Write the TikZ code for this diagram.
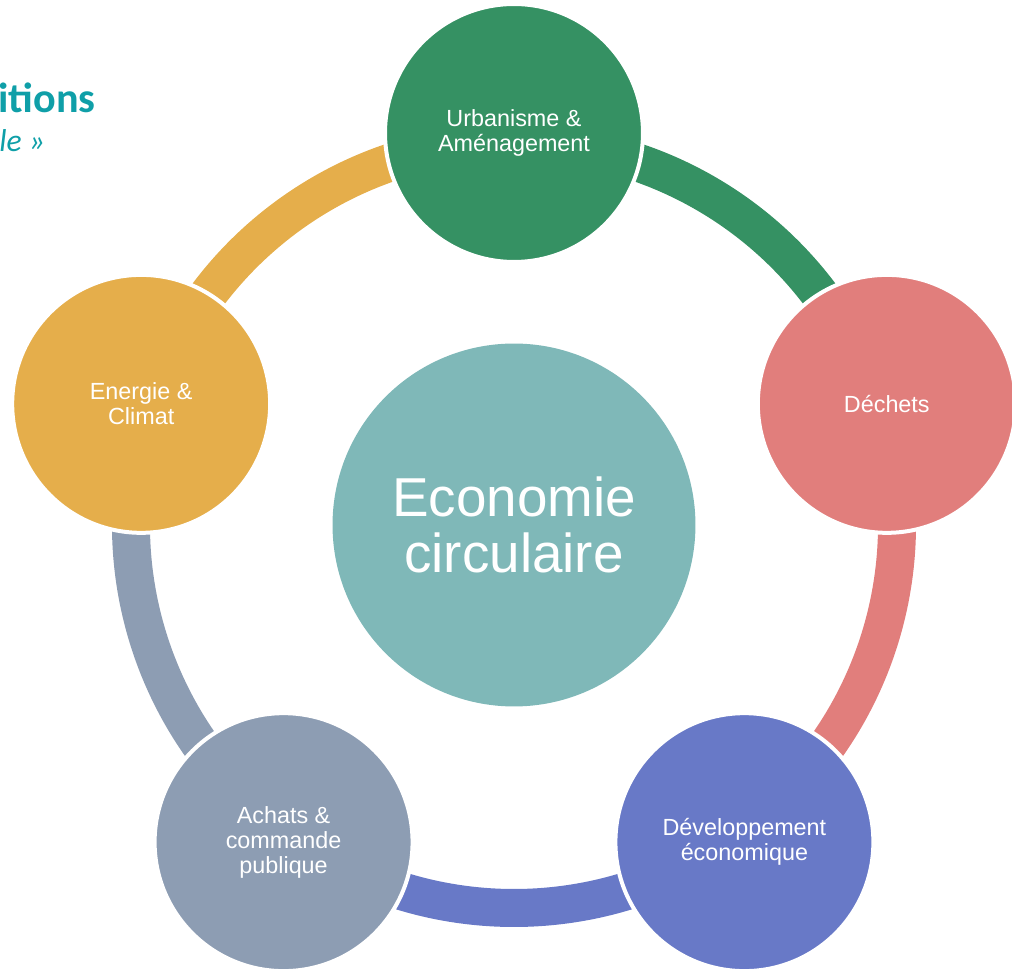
\documentclass[tikz,border=0pt]{standalone}
\usepackage{fontspec}
\setmainfont{Liberation Sans}
\newfontfamily\titlefont{Carlito}
\usepackage{tikz}
\usepackage{xcolor}

\definecolor{urbgreen}{HTML}{359163}
\definecolor{dechred}{HTML}{E17E7C}
\definecolor{devblue}{HTML}{6879C7}
\definecolor{achgray}{HTML}{8D9DB3}
\definecolor{enorange}{HTML}{E5AE4B}
\definecolor{ecoteal}{HTML}{7FB8B8}
\definecolor{titleteal}{HTML}{0F9FA8}

\begin{document}
\begin{tikzpicture}[x=0.02cm,y=0.02cm,
  ringarc/.style={line width=0.76cm},
  theme/.style={circle, draw=white, line width=0.08cm, minimum size=5.16cm, inner sep=0pt,
    text=white, align=center, font=\fontsize{13.3}{14.2}\selectfont},
  core/.style={circle, fill=ecoteal, minimum size=7.26cm, inner sep=0pt,
    text=white, align=center, font=\fontsize{31.2}{32.3}\selectfont}]
\useasboundingbox (-514,-445) rectangle (498,525);

% title, cut at the left edge
\node[anchor=base west, inner sep=0pt, text=titleteal, font=\titlefont\bfseries\fontsize{24}{28}\selectfont] (ttl) at (-516,412) {itions};
\node[anchor=base west, inner sep=0pt, text=titleteal, font=\titlefont\itshape\fontsize{18}{21}\selectfont] (subttl) at (-515,373) {le »};

% ring
\draw[ringarc, urbgreen] (90:383) arc[start angle=90, end angle=18, radius=383];
\draw[ringarc, dechred] (18:383) arc[start angle=18, end angle=-54, radius=383];
\draw[ringarc, devblue] (-54:383) arc[start angle=-54, end angle=-126, radius=383];
\draw[ringarc, achgray] (-126:383) arc[start angle=-126, end angle=-198, radius=383];
\draw[ringarc, enorange] (162:383) arc[start angle=162, end angle=90, radius=383];

\node[core] (eco) at (0,0) {Economie\\circulaire};

\node[theme, fill=urbgreen] (urba) at (90:392) {Urbanisme \&\\Aménagement};
\node[theme, fill=dechred] (dech) at (18:392) {Déchets};
\node[theme, fill=devblue] (deve) at (-54:392) {Développement\\économique};
\node[theme, fill=achgray] (acha) at (-126:392) {Achats \&\\commande\\publique};
\node[theme, fill=enorange] (ener) at (162:392) {Energie \&\\Climat};

\end{tikzpicture}
\end{document}
